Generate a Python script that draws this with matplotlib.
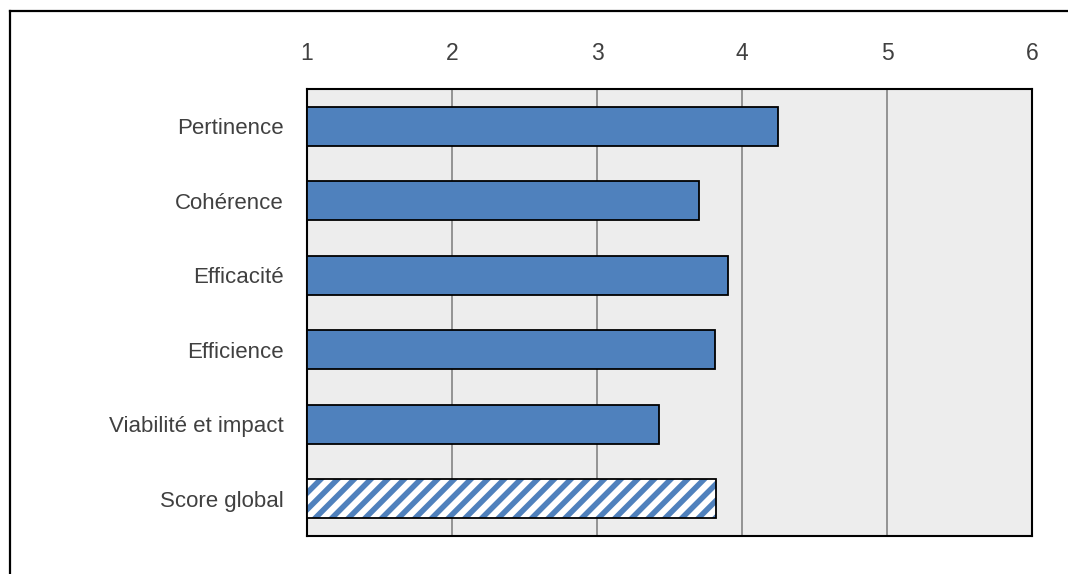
import matplotlib
matplotlib.use("Agg")
import matplotlib.pyplot as plt
from matplotlib.lines import Line2D

plt.rcParams['font.family'] = ['Liberation Sans Narrow', 'Liberation Sans', 'DejaVu Sans']
plt.rcParams['hatch.linewidth'] = 4.0

criteres = ['Pertinence', 'Cohérence', 'Efficacité', 'Efficience',
            'Viabilité et impact']
scores = [4.25, 3.70, 3.90, 3.81, 3.43]
libelle_global = 'Score global'
score_global = 3.82
graduations = [1, 2, 3, 4, 5, 6]

bleu = '#4f81bd'
fond = '#ededed'
texte = '#404040'

fig = plt.figure(figsize=(10.68, 5.74), dpi=100)
ax = fig.add_axes([0.2875, 0.066, 0.679, 0.779])
ax.set_facecolor(fond)

labels = criteres + [libelle_global]
y = list(range(len(labels)))
base = graduations[0]
hauteur = 0.52

ax.barh(y[:-1], [s - base for s in scores], left=base, height=hauteur,
        color=bleu, edgecolor='black', linewidth=1.3, zorder=3)
# barre du score global : hachures bleues sur fond blanc
ax.barh(y[-1], score_global - base, left=base, height=hauteur,
        color='white', edgecolor=bleu, hatch='//', linewidth=0, zorder=3)
ax.barh(y[-1], score_global - base, left=base, height=hauteur,
        fill=False, edgecolor='black', linewidth=1.3, zorder=4)

ax.set_xlim(graduations[0], graduations[-1])
ax.set_ylim(len(labels) - 0.5, -0.5)
ax.set_xticks(graduations)
ax.set_yticks(y)
ax.set_yticklabels(labels)
ax.xaxis.tick_top()
ax.tick_params(axis='x', length=0, pad=17, labelsize=16.5, labelcolor=texte)
ax.tick_params(axis='y', length=0, pad=17, labelsize=16, labelcolor=texte)
ax.grid(axis='x', color='#8c8c8c', linewidth=1.3, zorder=1)
ax.set_axisbelow(True)
for sp in ax.spines.values():
    sp.set_color('black')
    sp.set_linewidth(1.5)

# cadre extérieur (bords gauche et haut)
fig.add_artist(Line2D([9.5 / 1068, 9.5 / 1068], [0, 1 - 11 / 574],
                      transform=fig.transFigure, color='black', linewidth=1.6))
fig.add_artist(Line2D([9.5 / 1068, 1], [1 - 11 / 574, 1 - 11 / 574],
                      transform=fig.transFigure, color='black', linewidth=1.6))

fig.savefig('out.png', dpi=100)
